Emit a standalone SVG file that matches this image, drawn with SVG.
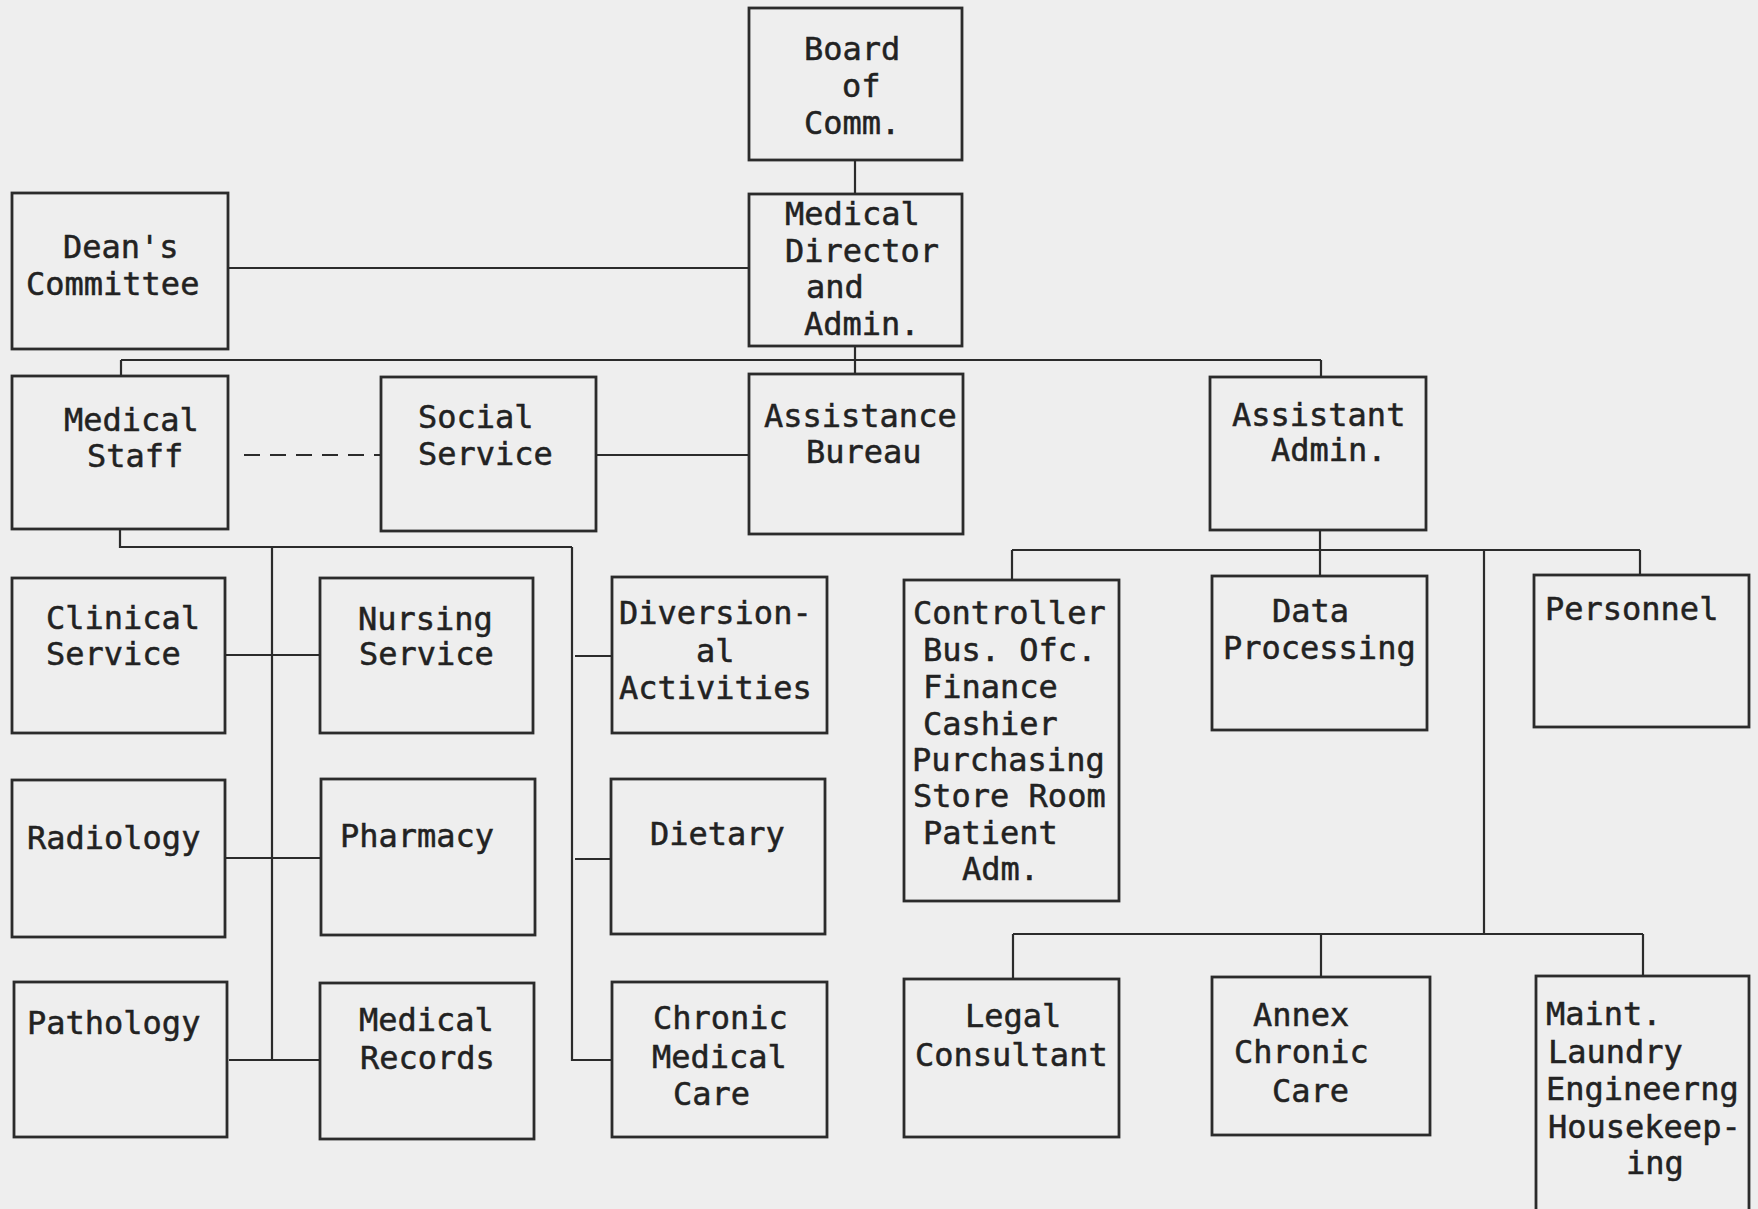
<svg xmlns="http://www.w3.org/2000/svg" width="1758" height="1209" viewBox="0 0 1758 1209">
<style>
.box{fill:none;stroke:#2b2b2b;stroke-width:2.8}
.c{fill:none;stroke:#2b2b2b;stroke-width:2.2}
.t{font-family:"DejaVu Sans Mono","Liberation Mono",monospace;font-size:32px;fill:#222;stroke:#222;stroke-width:0.5}
</style>
<rect width="1758" height="1209" fill="#eeeeee"/>
<g id="connectors">
<path class="c" d="M855 160V194"/>
<path class="c" d="M228 268H749"/>
<path class="c" d="M855 346V374"/>
<path class="c" d="M121 360H1321"/>
<path class="c" d="M121 360V376"/>
<path class="c" d="M1321 360V377"/>
<path class="c" d="M244 455H381" stroke-dasharray="16 10"/>
<path class="c" d="M596 455H749"/>
<path class="c" d="M120 529V547H572"/>
<path class="c" d="M272 547V1060"/>
<path class="c" d="M572 547V1060H612"/>
<path class="c" d="M225 655H320"/>
<path class="c" d="M225 858H321"/>
<path class="c" d="M229 1060H320" stroke-width="4.5"/>
<path class="c" d="M575 656H612"/>
<path class="c" d="M575 859H611"/>
<path class="c" d="M1320 530V550"/>
<path class="c" d="M1012 550H1640"/>
<path class="c" d="M1012 550V580"/>
<path class="c" d="M1320 550V576"/>
<path class="c" d="M1640 550V575"/>
<path class="c" d="M1484 550V934"/>
<path class="c" d="M1013 934H1643"/>
<path class="c" d="M1013 934V979"/>
<path class="c" d="M1321 934V977"/>
<path class="c" d="M1643 934V976"/>
</g>
<g id="board"><rect class="box" x="749" y="8" width="213" height="152"/>
<text class="t" x="804" y="60">Board</text><text class="t" x="842" y="97">of</text><text class="t" x="804" y="134">Comm.</text></g>
<g id="meddir"><rect class="box" x="749" y="194" width="213" height="152"/>
<text class="t" x="785" y="225">Medical</text><text class="t" x="785" y="262">Director</text><text class="t" x="806" y="298">and</text><text class="t" x="804" y="335">Admin.</text></g>
<g id="deans"><rect class="box" x="12" y="193" width="216" height="156"/>
<text class="t" x="63" y="258">Dean's</text><text class="t" x="26" y="295">Committee</text></g>
<g id="medstaff"><rect class="box" x="12" y="376" width="216" height="153"/>
<text class="t" x="64" y="431">Medical</text><text class="t" x="87" y="467">Staff</text></g>
<g id="social"><rect class="box" x="381" y="377" width="215" height="154"/>
<text class="t" x="418" y="428">Social</text><text class="t" x="418" y="465">Service</text></g>
<g id="assistance"><rect class="box" x="749" y="374" width="214" height="160"/>
<text class="t" x="764" y="427">Assistance</text><text class="t" x="806" y="463">Bureau</text></g>
<g id="asstadmin"><rect class="box" x="1210" y="377" width="216" height="153"/>
<text class="t" x="1232" y="426">Assistant</text><text class="t" x="1271" y="461">Admin.</text></g>
<g id="clinical"><rect class="box" x="12" y="578" width="213" height="155"/>
<text class="t" x="46" y="629">Clinical</text><text class="t" x="46" y="665">Service</text></g>
<g id="nursing"><rect class="box" x="320" y="578" width="213" height="155"/>
<text class="t" x="358" y="630">Nursing</text><text class="t" x="359" y="665">Service</text></g>
<g id="diversional"><rect class="box" x="612" y="577" width="215" height="156"/>
<text class="t" x="619" y="624">Diversion-</text><text class="t" x="696" y="662">al</text><text class="t" x="619" y="699">Activities</text></g>
<g id="radiology"><rect class="box" x="12" y="780" width="213" height="157"/>
<text class="t" x="27" y="849">Radiology</text></g>
<g id="pharmacy"><rect class="box" x="321" y="779" width="214" height="156"/>
<text class="t" x="340" y="847">Pharmacy</text></g>
<g id="dietary"><rect class="box" x="611" y="779" width="214" height="155"/>
<text class="t" x="650" y="845">Dietary</text></g>
<g id="pathology"><rect class="box" x="14" y="982" width="213" height="155"/>
<text class="t" x="27" y="1034">Pathology</text></g>
<g id="medrecords"><rect class="box" x="320" y="983" width="214" height="156"/>
<text class="t" x="359" y="1031">Medical</text><text class="t" x="360" y="1069">Records</text></g>
<g id="chronicmed"><rect class="box" x="612" y="982" width="215" height="155"/>
<text class="t" x="653" y="1029">Chronic</text><text class="t" x="652" y="1068">Medical</text><text class="t" x="673" y="1105">Care</text></g>
<g id="controller"><rect class="box" x="904" y="580" width="215" height="321"/>
<text class="t" x="913" y="624">Controller</text><text class="t" x="923" y="661">Bus. Ofc.</text><text class="t" x="923" y="698">Finance</text><text class="t" x="923" y="735">Cashier</text><text class="t" x="912" y="771">Purchasing</text><text class="t" x="913" y="807">Store Room</text><text class="t" x="923" y="844">Patient</text><text class="t" x="962" y="880">Adm.</text></g>
<g id="dataproc"><rect class="box" x="1212" y="576" width="215" height="154"/>
<text class="t" x="1272" y="622">Data</text><text class="t" x="1223" y="659">Processing</text></g>
<g id="personnel"><rect class="box" x="1534" y="575" width="215" height="152"/>
<text class="t" x="1545" y="620">Personnel</text></g>
<g id="legal"><rect class="box" x="904" y="979" width="215" height="158"/>
<text class="t" x="965" y="1027">Legal</text><text class="t" x="915" y="1066">Consultant</text></g>
<g id="annex"><rect class="box" x="1212" y="977" width="218" height="158"/>
<text class="t" x="1253" y="1026">Annex</text><text class="t" x="1234" y="1063">Chronic</text><text class="t" x="1272" y="1102">Care</text></g>
<g id="maint"><rect class="box" x="1536" y="976" width="213" height="240"/>
<text class="t" x="1546" y="1025">Maint.</text><text class="t" x="1548" y="1063">Laundry</text><text class="t" x="1546" y="1100">Engineerng</text><text class="t" x="1548" y="1138">Housekeep-</text><text class="t" x="1626" y="1174">ing</text></g>
</svg>
